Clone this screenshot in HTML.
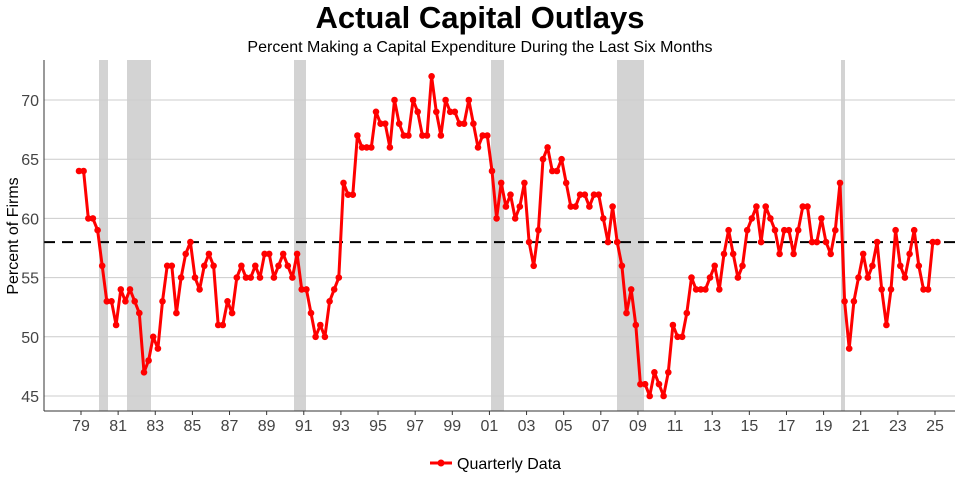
<!DOCTYPE html>
<html><head><meta charset="utf-8"><style>
body{margin:0;background:#fff;}
svg{display:block;font-family:"Liberation Sans",sans-serif;}
</style></head><body>
<svg id="s" width="960" height="480" xmlns="http://www.w3.org/2000/svg">
<text x="480" y="28" text-anchor="middle" font-size="31" font-weight="bold">Actual Capital Outlays</text>
<text x="480" y="52" text-anchor="middle" font-size="16">Percent Making a Capital Expenditure During the Last Six Months</text>
<text transform="translate(18,236) rotate(-90)" text-anchor="middle" font-size="16">Percent of Firms</text>
<g id="g"></g>
<line x1="44" y1="60" x2="44" y2="411" stroke="#333" stroke-width="1"/>
<line x1="44" y1="411" x2="955" y2="411" stroke="#333" stroke-width="1"/>
<line x1="430" y1="463" x2="452" y2="463" stroke="#f00" stroke-width="3"/>
<circle cx="441" cy="463" r="3.5" fill="#f00"/>
<text x="457" y="469" font-size="16">Quarterly Data</text>
</svg>
<script>
var d=[64,64,60,60,59,56,53,53,51,54,53,54,53,52,47,48,50,49,53,56,56,52,55,57,58,55,54,56,57,56,51,51,53,52,55,56,55,55,56,55,57,57,55,56,57,56,55,57,54,54,52,50,51,50,53,54,55,63,62,62,67,66,66,66,69,68,68,66,70,68,67,67,70,69,67,67,72,69,67,70,69,69,68,68,70,68,66,67,67,64,60,63,61,62,60,61,63,58,56,59,65,66,64,64,65,63,61,61,62,62,61,62,62,60,58,61,58,56,52,54,51,46,46,45,47,46,45,47,51,50,50,52,55,54,54,54,55,56,54,57,59,57,55,56,59,60,61,58,61,60,59,57,59,59,57,59,61,61,58,58,60,58,57,59,63,53,49,53,55,57,55,56,58,54,51,54,59,56,55,57,59,56,54,54,58,58];
var NS="http://www.w3.org/2000/svg",g=document.getElementById("g"),h="";
function Y(v){return 396-(v-45)*11.84;}
[[99,108],[127,151],[294,306],[491,504],[617,644],[841,845]].forEach(function(r){h+='<rect x="'+r[0]+'" y="60" width="'+(r[1]-r[0])+'" height="351" fill="#d3d3d3"/>';});
for(var v=45;v<=70;v+=5){var y=Y(v);h+='<line x1="44" x2="955" y1="'+y+'" y2="'+y+'" stroke="#ccc" stroke-width="1"/>';h+='<text x="39" y="'+(y+6)+'" text-anchor="end" font-size="16" fill="#444">'+v+'</text>';}
h+='<line x1="44" x2="955" y1="'+Y(58)+'" y2="'+Y(58)+'" stroke="#000" stroke-width="2" stroke-dasharray="11,7"/>';
var labs=["79","81","83","85","87","89","91","93","95","97","99","01","03","05","07","09","11","13","15","17","19","21","23","25"];
labs.forEach(function(l,i){var x=81+i*37.13;h+='<line x1="'+x+'" x2="'+x+'" y1="411" y2="415" stroke="#333"/>';h+='<text x="'+x+'" y="431" text-anchor="middle" font-size="16" fill="#444">'+l+'</text>';});
var pts=d.map(function(v,i){return (79+4.64*i).toFixed(1)+","+Y(v).toFixed(1);});
h+='<polyline points="'+pts.join(" ")+'" fill="none" stroke="#f00" stroke-width="3" stroke-linejoin="round"/>';
pts.forEach(function(p){var a=p.split(",");h+='<circle cx="'+a[0]+'" cy="'+a[1]+'" r="3.3" fill="#f00"/>';});
g.innerHTML=h;
</script>
</body></html>
